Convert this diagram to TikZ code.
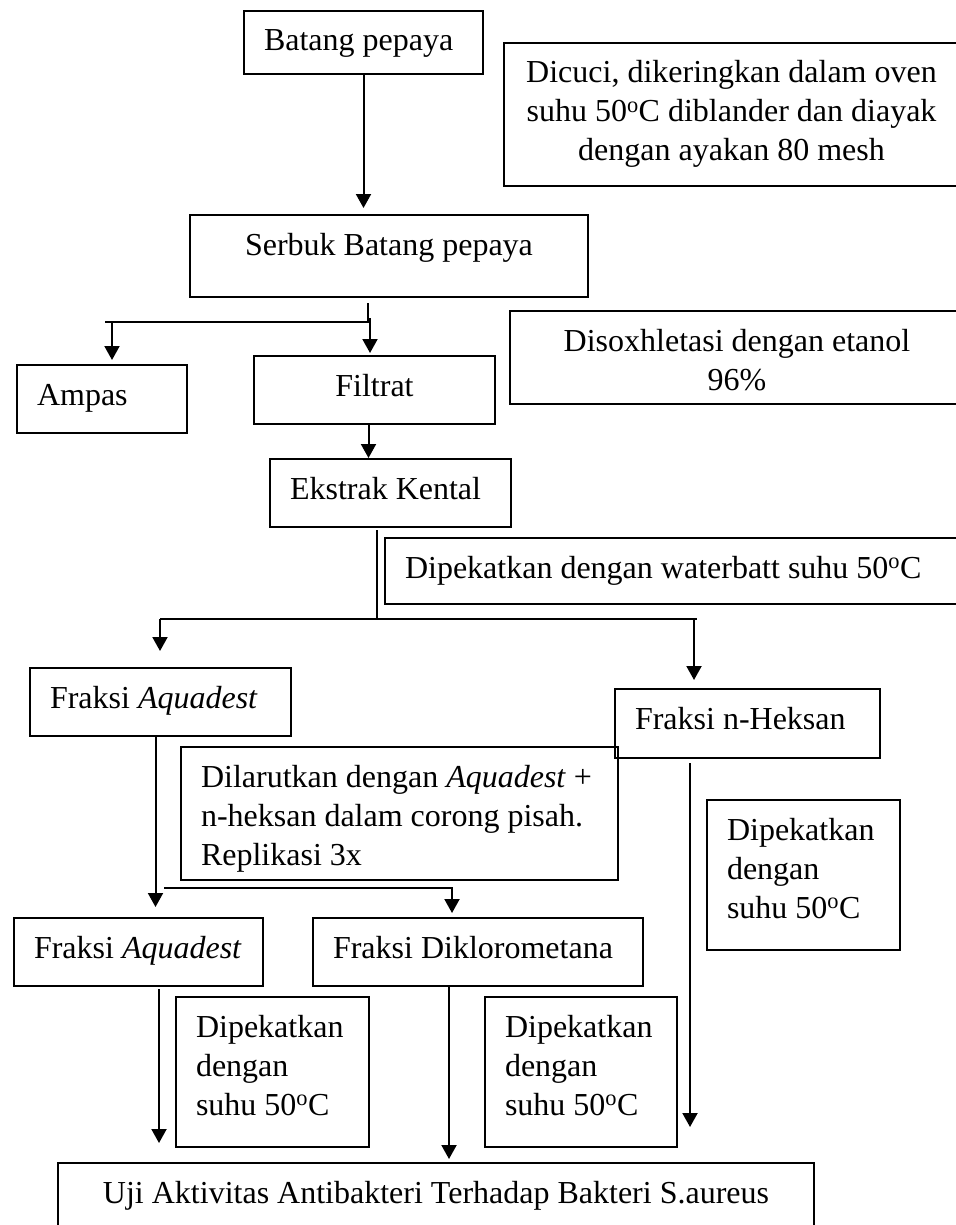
\documentclass[tikz,border=0pt]{standalone}
\usepackage{fontspec}
\setmainfont{Liberation Serif}
\usetikzlibrary{arrows.meta}
\tikzset {
  box/.style = {draw, line width=2pt, rectangle, anchor=north west, inner xsep=20pt, inner ysep=0pt, text height=40pt, align=flush left, font=\fontsize{32}{39}\selectfont},
  note/.style = {box, align=flush center},
  line/.style = {-{Triangle[width=15pt, length=14pt]}, line width=2pt},
  link/.style = {line width=2pt}
}

\begin{document}
\begin{tikzpicture}[x=1pt, y=-1pt]
    \useasboundingbox (0,0) rectangle (955,1225);

    \node[box, text width=199pt, text depth=23pt] (bp) at (243,10) {Batang pepaya};
    \node[note, text width=415pt, text depth=103pt] (cuci) at (503,42) {Dicuci, dikeringkan dalam oven\\ suhu 50\textsuperscript{o}C diblander dan diayak\\ dengan ayakan 80 mesh};
    \node[note, text width=358pt, text depth=42pt] (serbuk) at (189,214) {Serbuk Batang pepaya};
    \node[note, text width=414pt, text depth=53pt] (soxhlet) at (509,310) {Disoxhletasi dengan etanol\\ 96\%};
    \node[box, text width=130pt, text depth=28pt] (ampas) at (16,364) {Ampas};
    \node[note, text width=201pt, text depth=28pt] (filtrat) at (253,355) {Filtrat};
    \node[box, text width=201pt, text depth=28pt] (ekstrak) at (269,458) {Ekstrak Kental};
    \node[box, text width=540pt, text depth=26pt] (waterbatt) at (384,537) {Dipekatkan dengan waterbatt suhu 50\textsuperscript{o}C};
    \node[box, text width=221pt, text depth=28pt] (aqua) at (29,667) {Fraksi \textit{Aquadest}};
    \node[box, text width=225pt, text depth=29pt] (heksan) at (614,688) {Fraksi n-Heksan};
    \node[box, text width=397pt, text depth=93pt] (larut) at (180,746) {Dilarutkan dengan \textit{Aquadest} +\\ n-heksan dalam corong pisah.\\ Replikasi 3x};
    \node[box, text width=153pt, text depth=110pt] (pekatc) at (706,799) {Dipekatkan\\ dengan\\ suhu 50\textsuperscript{o}C};
    \node[box, text width=209pt, text depth=28pt] (aqub) at (13,917) {Fraksi \textit{Aquadest}};
    \node[box, text width=290pt, text depth=28pt] (dikloro) at (312,917) {Fraksi Diklorometana};
    \node[box, text width=153pt, text depth=110pt] (pekata) at (175,996) {Dipekatkan\\ dengan\\ suhu 50\textsuperscript{o}C};
    \node[box, text width=152pt, text depth=110pt] (pekatb) at (484,996) {Dipekatkan\\ dengan\\ suhu 50\textsuperscript{o}C};
    \node[note, text width=716pt, text depth=40pt] (uji) at (57,1162) {Uji Aktivitas Antibakteri Terhadap Bakteri S.aureus};

    % split points
    \coordinate (jserbuk) at (368,322);
    \coordinate (jampas) at (105,322);
    \coordinate (tampas) at (112,322);
    \coordinate (tfiltrat) at (370,318);
    \coordinate (jekstrak) at (377,619);
    \coordinate (jaqua) at (160,619);
    \coordinate (jheksan) at (694,619);
    \coordinate (jlarut) at (164,888);
    \coordinate (jdikloro) at (452,888);
    \coordinate (theksan) at (690,757);
    \coordinate (taqub) at (159,985);
    \coordinate (tdikloro) at (449,985);

    \draw[line, shorten >=6pt] (bp.south) -- (bp.south |- serbuk.north);
    \draw[link, shorten <=5pt] (serbuk.south -| jserbuk) -- (jserbuk) -- (jampas);
    \draw[line, shorten >=4pt] (tampas) -- (tampas |- ampas.north);
    \draw[line, shorten >=2pt] (tfiltrat) -- (tfiltrat |- filtrat.north);
    \draw[line] ([xshift=-6pt]filtrat.south) -- ([xshift=-6pt]filtrat.south |- ekstrak.north);
    \draw[link, shorten <=2pt] (ekstrak.south -| jekstrak) -- (jekstrak);
    \draw[link] (jaqua) -- ([xshift=3pt]jheksan);
    \draw[line, shorten >=16pt] (jaqua) -- (jaqua |- aqua.north);
    \draw[line, shorten >=8pt] (jheksan) -- (jheksan |- heksan.north);
    \draw[line, shorten >=10pt] ([xshift=-5pt]aqua.south) -- ([xshift=-5pt]aqua.south |- aqub.north);
    \draw[line, shorten >=4pt] (jlarut) -- (jdikloro) -- (jdikloro |- dikloro.north);
    \draw[line, shorten <=6pt, shorten >=35pt] (theksan) -- (theksan |- uji.north);
    \draw[line, shorten <=4pt, shorten >=19pt] (taqub) -- (taqub |- uji.north);
    \draw[line, shorten >=3pt] (tdikloro) -- (tdikloro |- uji.north);

\end{tikzpicture}
\end{document}
